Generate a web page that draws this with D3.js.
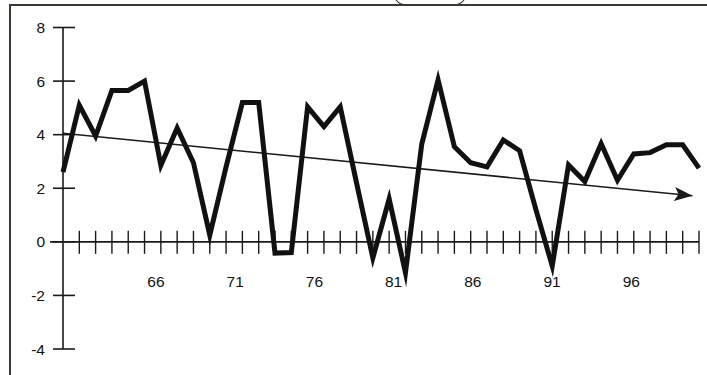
<!DOCTYPE html>
<html>
<head>
<meta charset="utf-8">
<script src="https://cdn.jsdelivr.net/npm/d3@7"></script>
<style>
  html, body { margin: 0; padding: 0; background: #fff; }
  svg { display: block; }
  text { font-family: "Liberation Sans", Arial, Helvetica, sans-serif; fill: #111; }
</style>
</head>
<body>
<svg id="chart" width="707" height="375"></svg>
<script>
// ---- data ----
const years = d3.range(60, 100); // 1960..1999
const values = [
  2.6, 5.1, 3.95, 5.65, 5.65, 6.0, 2.85, 4.25, 2.95, 0.25,
  2.8, 5.2, 5.2, -0.42, -0.4, 5.04, 4.3, 5.04, 2.2, -0.6,
  1.6, -1.15, 3.65, 6.05, 3.55, 2.95, 2.8, 3.8, 3.4, 1.2,
  -0.9, 2.87, 2.25, 3.66, 2.3, 3.28, 3.33, 3.62, 3.62, 2.75
];
const trendYears = [60, 98.6];
const trendValues = [4.05, 1.72];
const yTickValues = [-4, -2, 0, 2, 4, 6, 8];
const xTickYears = d3.range(61, 100);
const xLabelYears = [66, 71, 76, 81, 86, 91, 96];

// ---- scales ----
const svg = d3.select("#chart");
const x = d3.scaleLinear().domain([60, 99]).range([63, 699]);
const y = d3.scaleLinear().domain([-4, 8]).range([349, 27.5]);
// labels in the original drift slightly left of their ticks
const xLabel = d3.scaleLinear().domain([66, 96]).range([x(65.7), x(94.85)]);

const ink = "#1a1a1a";

// ---- frame ----
svg.append("path")
  .attr("d", "M10,375 L10,5 L707,5")
  .attr("fill", "none").attr("stroke", "#3a3a33").attr("stroke-width", 2);
svg.append("path")
  .attr("d", "M396,0 Q400,5 406,5 L454,5 Q460,5 464,0")
  .attr("fill", "none").attr("stroke", "#3a3a33").attr("stroke-width", 1.2);

// ---- y axis ----
svg.append("line")
  .attr("x1", x(60)).attr("x2", x(60))
  .attr("y1", y(8)).attr("y2", y(-4))
  .attr("stroke", ink).attr("stroke-width", 1.6);
const yt = svg.append("g").selectAll("g").data(yTickValues).join("g");
yt.append("line")
  .attr("x1", x(60) - 10).attr("x2", x(60) + 12)
  .attr("y1", d => y(d)).attr("y2", d => y(d))
  .attr("stroke", ink).attr("stroke-width", 1.6);
yt.append("text")
  .attr("x", x(60) - 18).attr("y", d => y(d))
  .attr("dy", "0.36em")
  .attr("text-anchor", "end")
  .attr("font-size", 15.5)
  .text(d => d);

// ---- x axis (at zero) ----
svg.append("line")
  .attr("x1", x(60) - 13).attr("x2", x(99))
  .attr("y1", y(0)).attr("y2", y(0))
  .attr("stroke", ink).attr("stroke-width", 1.6);
svg.append("g").selectAll("line").data(xTickYears).join("line")
  .attr("x1", d => x(d)).attr("x2", d => x(d))
  .attr("y1", y(0) - 11).attr("y2", y(0) + 12)
  .attr("stroke", ink).attr("stroke-width", 1.4);
svg.append("g").selectAll("text").data(xLabelYears).join("text")
  .attr("x", d => xLabel(d)).attr("y", y(0) + 45)
  .attr("text-anchor", "middle")
  .attr("font-size", 15.5)
  .text(d => d);

// ---- trend arrow ----
svg.append("defs").append("marker")
  .attr("id", "arrow")
  .attr("viewBox", "0 0 18 14")
  .attr("refX", 18).attr("refY", 7)
  .attr("markerWidth", 18).attr("markerHeight", 14)
  .attr("markerUnits", "userSpaceOnUse")
  .attr("orient", "auto")
  .append("path")
  .attr("d", "M0,0 L18,7 L0,14 L4,7 Z")
  .attr("fill", ink);

svg.append("line")
  .attr("x1", x(trendYears[0])).attr("y1", y(trendValues[0]))
  .attr("x2", x(trendYears[1])).attr("y2", y(trendValues[1]))
  .attr("stroke", ink).attr("stroke-width", 1.6)
  .attr("marker-end", "url(#arrow)");

// ---- main series ----
const line = d3.line().x((d, i) => x(years[i])).y(d => y(d));
svg.append("path")
  .datum(values)
  .attr("d", line)
  .attr("fill", "none")
  .attr("stroke", "#111")
  .attr("stroke-width", 5)
  .attr("stroke-linejoin", "miter")
  .attr("stroke-miterlimit", 6);
</script>
</body>
</html>
